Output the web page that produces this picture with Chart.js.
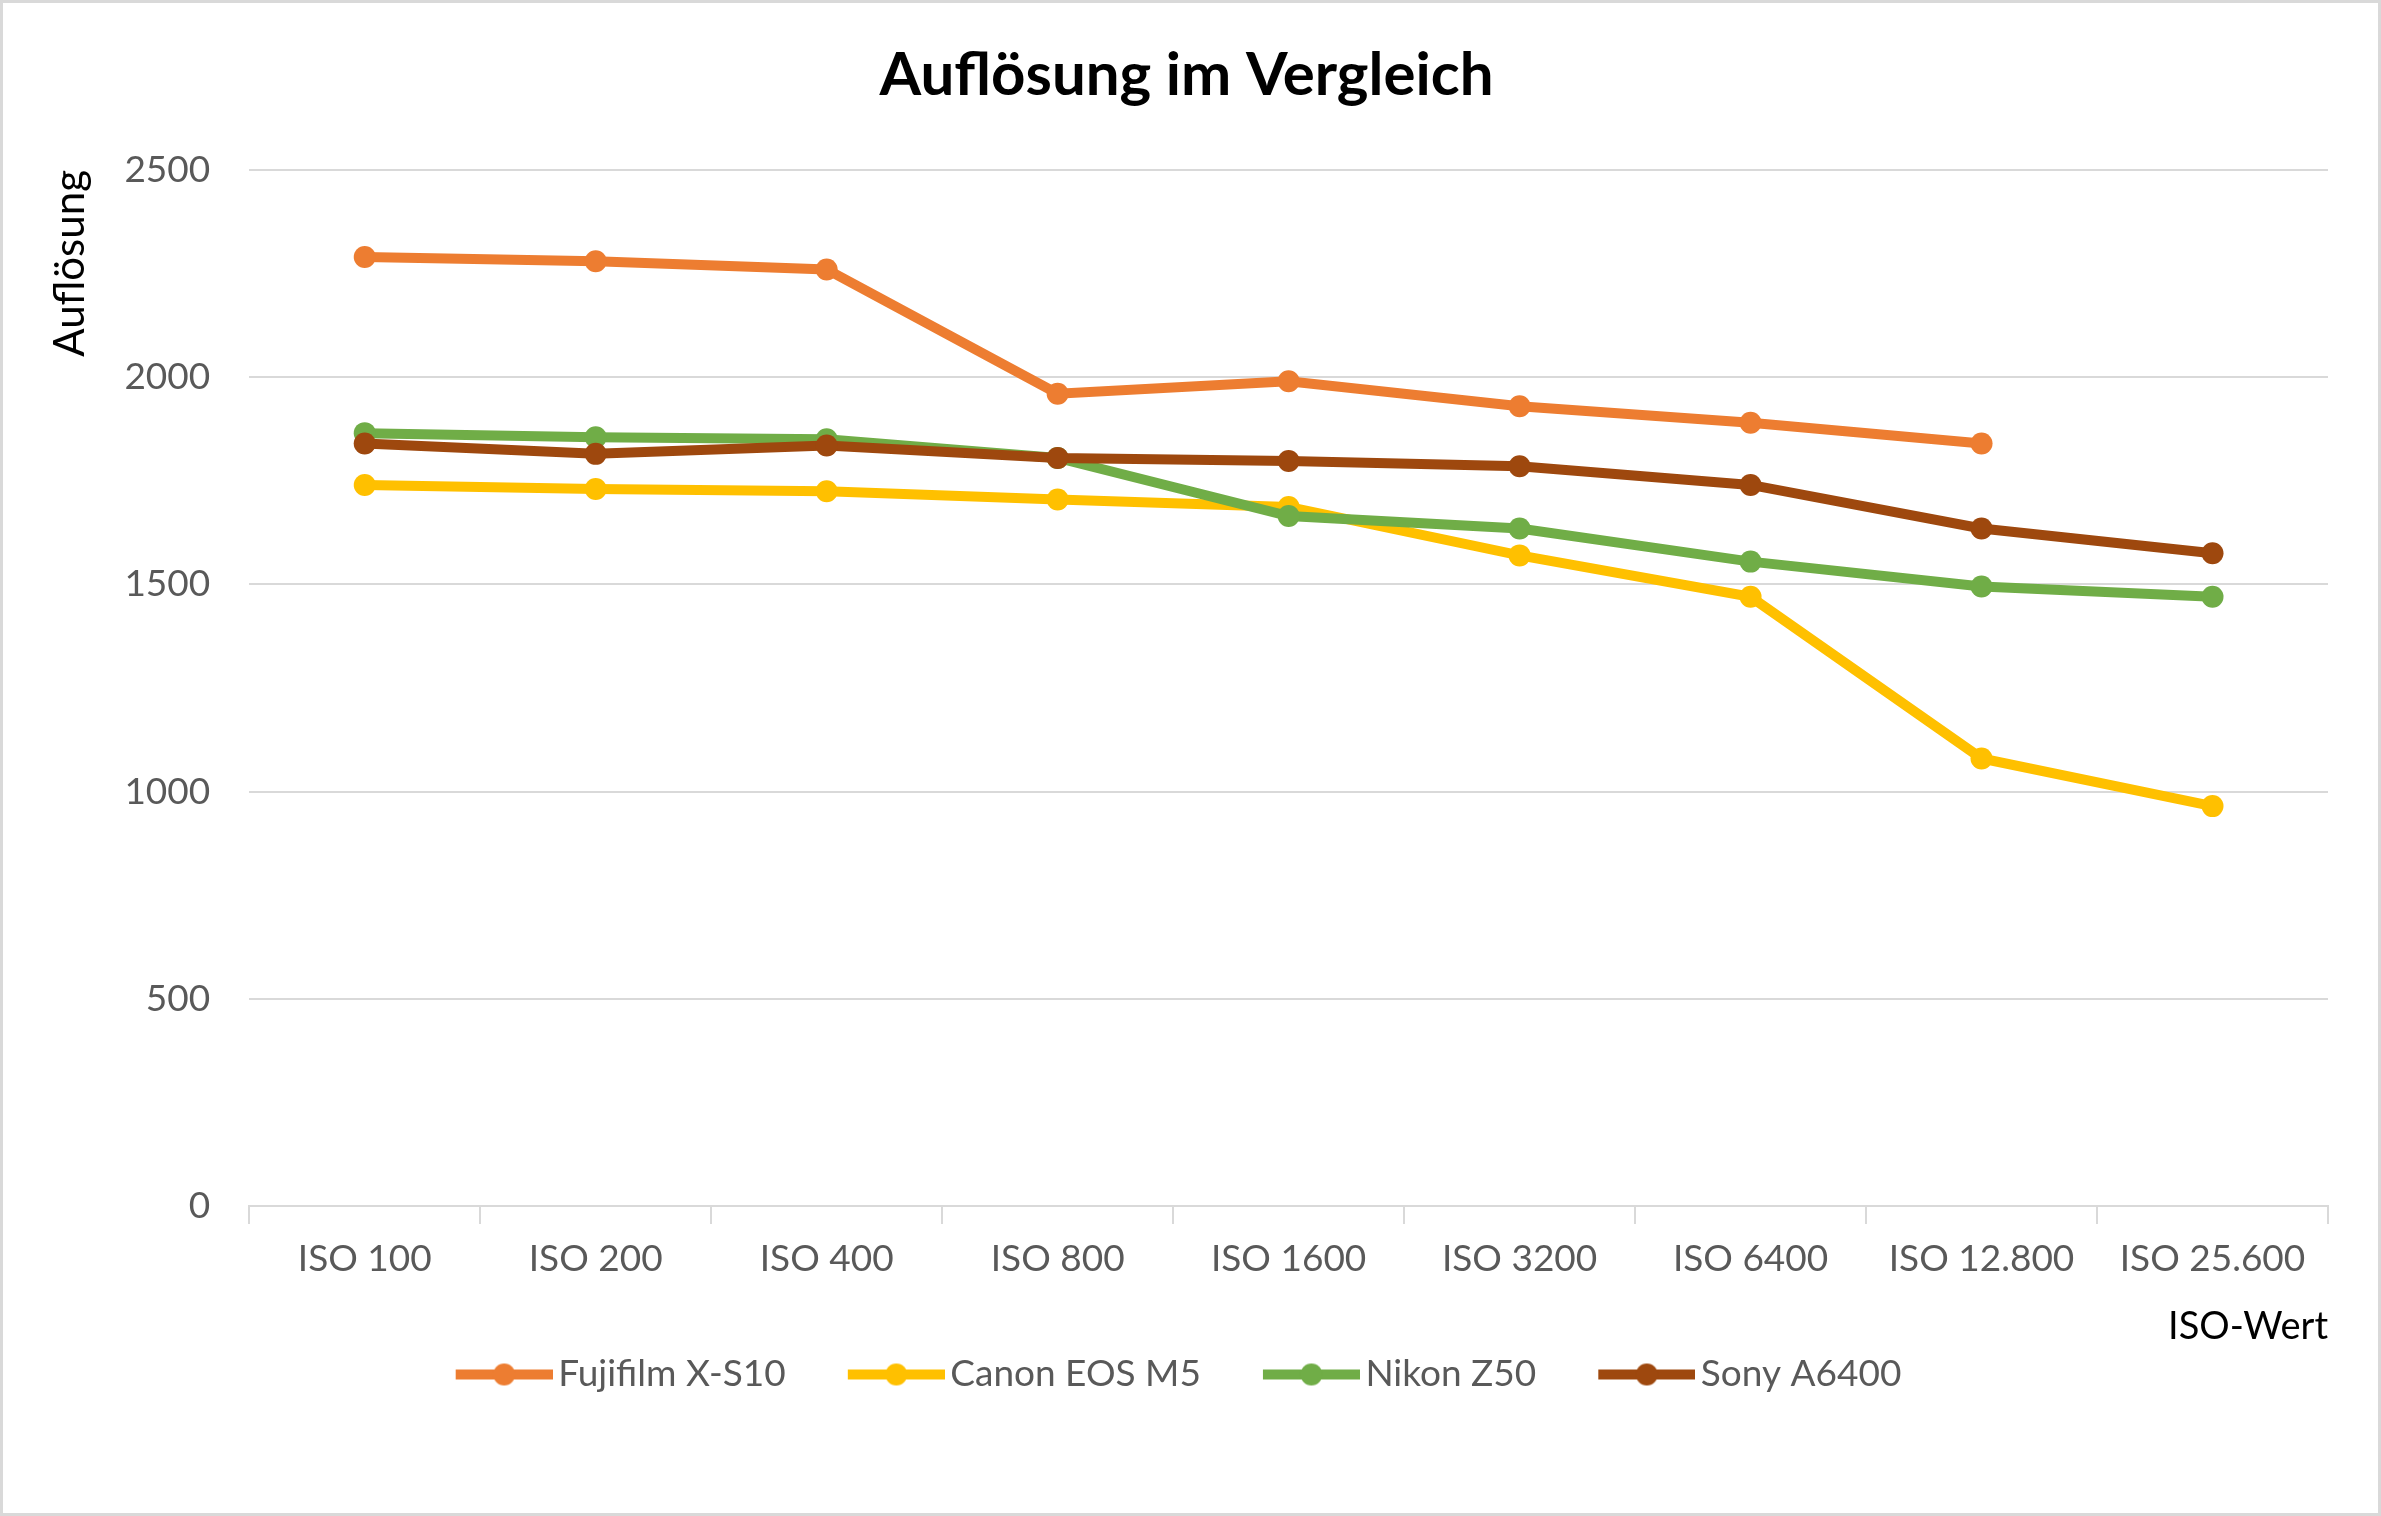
<!DOCTYPE html>
<html>
<head>
<meta charset="utf-8">
<script src="https://cdn.jsdelivr.net/npm/chart.js@4.4.0/dist/chart.umd.min.js"></script>
<style>
    html, body { margin: 0; padding: 0; background: #fff; }
    #wrap { width: 2381px; height: 1516px; box-sizing: border-box; border: 3px solid #d9d9d9; }
</style>
</head>
<body>
<div id="wrap"><canvas id="chart"></canvas></div>
<script>
// Kategorien (ISO-Werte)
const isoLabels = ['ISO 100', 'ISO 200', 'ISO 400', 'ISO 800', 'ISO 1600', 'ISO 3200', 'ISO 6400', 'ISO 12.800', 'ISO 25.600'];

// Messwerte je Kamera
const fujifilm = [2290, 2280, 2260, 1960, 1990, 1930, 1890, 1840, null];
const canon    = [1740, 1730, 1725, 1705, 1687, 1570, 1470, 1080, 965];
const nikon    = [1865, 1855, 1850, 1805, 1665, 1635, 1555, 1495, 1470];
const sony     = [1840, 1815, 1835, 1805, 1798, 1785, 1740, 1635, 1575];

const seriesNames = ['Fujifilm X-S10', 'Canon EOS M5', 'Nikon Z50', 'Sony A6400'];
const seriesColors = ['#ED7D31', '#FFC000', '#70AD47', '#9E480E'];

// Y-Achse
const yMin = 0;
const yMax = 2500;
const yStep = 500;

const FONT = 'Lato, "Open Sans", sans-serif';

// Legendensymbol: Linie mit Punkt in der Mitte
function legendImage(color) {
    const c = document.createElement('canvas');
    c.width = 160;
    c.height = 26;
    const g = c.getContext('2d');
    g.strokeStyle = color;
    g.lineWidth = 10;
    g.beginPath();
    g.moveTo(63, 13);
    g.lineTo(160, 13);
    g.stroke();
    g.fillStyle = color;
    g.beginPath();
    g.arc(111.5, 13, 11, 0, Math.PI * 2);
    g.fill();
    return c;
}
const legendImages = seriesColors.map(legendImage);

// Legende etwas nach links rücken (wie im Original)
const legendShift = {
    id: 'legendShift',
    afterLayout(chart) {
        if (chart.legend) {
            chart.legend.left -= 33;
            chart.legend.right -= 33;
        }
    }
};

const seriesData = [fujifilm, canon, nikon, sony];
const datasets = seriesData.map((values, i) => ({
    label: seriesNames[i],
    data: values,
    borderColor: seriesColors[i],
    backgroundColor: seriesColors[i],
    pointBackgroundColor: seriesColors[i],
    pointBorderColor: seriesColors[i],
    borderWidth: 10,
    pointRadius: 11,
    pointHoverRadius: 11,
    pointBorderWidth: 0,
    tension: 0,
    order: seriesData.length - 1 - i // spätere Reihen oben zeichnen
}));

new Chart(document.getElementById('chart'), {
    type: 'line',
    data: { labels: isoLabels, datasets: datasets },
    plugins: [legendShift],
    options: {
        responsive: true,
        maintainAspectRatio: false,
        animation: false,
        layout: { padding: { top: 20, left: 42, right: 50, bottom: 110 } },
        plugins: {
            title: {
                display: true,
                text: 'Auflösung im Vergleich',
                color: '#000',
                font: { family: FONT, size: 60, weight: 'bold' },
                padding: { top: 17, bottom: 58 }
            },
            legend: {
                position: 'bottom',
                labels: {
                    usePointStyle: true,
                    pointStyleWidth: 134,
                    padding: 12,
                    color: '#595959',
                    font: { family: FONT, size: 37 },
                    generateLabels: chart => chart.data.datasets.map((ds, i) => ({
                        text: ds.label,
                        pointStyle: legendImages[i],
                        fillStyle: ds.borderColor,
                        strokeStyle: ds.borderColor,
                        fontColor: '#595959',
                        lineWidth: 0,
                        hidden: false,
                        datasetIndex: i
                    }))
                }
            },
            tooltip: { enabled: false }
        },
        scales: {
            x: {
                type: 'category',
                offset: true,
                grid: {
                    offset: true,
                    drawOnChartArea: false,
                    drawTicks: true,
                    tickLength: 18,
                    color: '#d9d9d9',
                    lineWidth: 2
                },
                border: { color: '#d9d9d9', width: 2 },
                ticks: {
                    color: '#595959',
                    font: { family: FONT, size: 37 },
                    padding: 13,
                    maxRotation: 0,
                    autoSkip: false
                },
                title: {
                    display: true,
                    text: 'ISO-Wert',
                    align: 'end',
                    color: '#000',
                    font: { family: FONT, size: 38 },
                    padding: { top: 10, bottom: -6 }
                }
            },
            y: {
                min: yMin,
                max: yMax,
                grid: { color: '#d9d9d9', lineWidth: 2, drawTicks: false },
                border: { display: false },
                ticks: {
                    stepSize: yStep,
                    color: '#595959',
                    font: { family: FONT, size: 37 },
                    padding: 39,
                    callback: value => String(value)
                },
                title: {
                    display: true,
                    text: 'Auflösung',
                    align: 'end',
                    color: '#000',
                    font: { family: FONT, size: 42 },
                    padding: { top: 0, bottom: -10 }
                }
            }
        }
    }
});
</script>
</body>
</html>
